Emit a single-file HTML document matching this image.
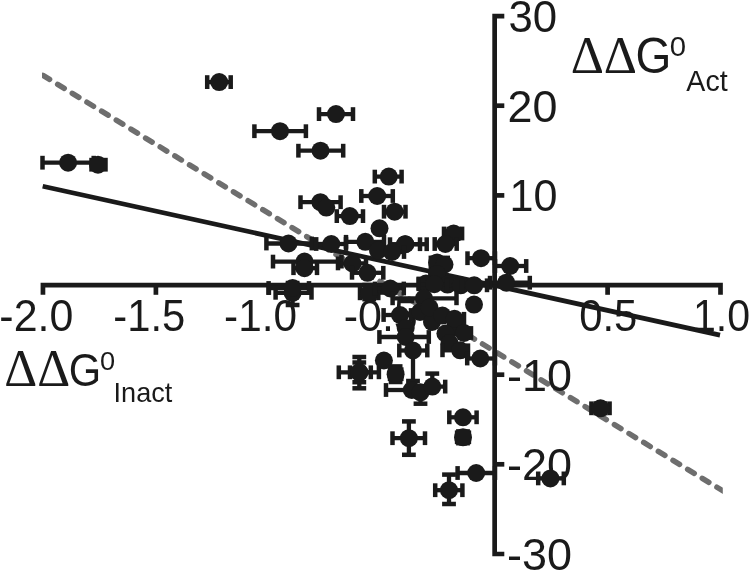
<!DOCTYPE html>
<html lang="en"><head><meta charset="utf-8"><title>ΔΔG0 Act vs ΔΔG0 Inact</title>
<style>html,body{margin:0;padding:0;background:#fff}body{width:750px;height:572px;overflow:hidden}svg{display:block}
text{font-family:"Liberation Sans",sans-serif;fill:#1a1a1a}.d{font-family:"Liberation Serif",serif}</style></head><body>
<svg width="750" height="572" viewBox="0 0 750 572">
<rect width="750" height="572" fill="#fff"/>
<defs><clipPath id="cl"><rect x="42" y="0" width="680.8" height="572"/></clipPath></defs>
<path clip-path="url(#cl)" d="M43.01 75.39 L743.01 503.16" stroke="#6e6e6e" stroke-width="5.5" stroke-dasharray="7.7 9.47" stroke-linecap="round" fill="none"/>
<text x="-0.63" y="331.1" font-size="44.3" textLength="73.97" lengthAdjust="spacingAndGlyphs">-2.0</text>
<text x="113.32" y="331.1" font-size="44.3" textLength="71.98" lengthAdjust="spacingAndGlyphs">-1.5</text>
<text x="224.1" y="331.1" font-size="44.3" textLength="72.92" lengthAdjust="spacingAndGlyphs">-1.0</text>
<text x="343.67" y="331.1" font-size="44.3" textLength="74.08" lengthAdjust="spacingAndGlyphs">-0.5</text>
<text x="579.13" y="331.1" font-size="44.3" textLength="58.15" lengthAdjust="spacingAndGlyphs">0.5</text>
<text x="692.92" y="331.1" font-size="44.3" textLength="57.13" lengthAdjust="spacingAndGlyphs">1.0</text>
<text x="508.46" y="31.95" font-size="44.3" textLength="48.69" lengthAdjust="spacingAndGlyphs">30</text>
<text x="507.56" y="121.6" font-size="44.3" textLength="49.93" lengthAdjust="spacingAndGlyphs">20</text>
<text x="509.47" y="211.3" font-size="44.3" textLength="47.95" lengthAdjust="spacingAndGlyphs">10</text>
<text x="507.08" y="390.6" font-size="44.3" textLength="65.03" lengthAdjust="spacingAndGlyphs">-10</text>
<text x="507.08" y="480.2" font-size="44.3" textLength="65.03" lengthAdjust="spacingAndGlyphs">-20</text>
<text x="507.08" y="569.9" font-size="44.3" textLength="65.03" lengthAdjust="spacingAndGlyphs">-30</text>
<g stroke="#1a1a1a" stroke-width="4.7" fill="none" stroke-linecap="butt">
<path d="M504.3 16.05H494.65 V554 H504.3"/>
<path d="M42.95 294.8 V285.15 H720.5 V294.8"/>
<path d="M494.65 105.7 H504.3"/>
<path d="M494.65 195.4 H504.3"/>
<path d="M494.65 374.7 H504.3"/>
<path d="M494.65 464.3 H504.3"/>
<path d="M155.9 285.15 V294.8"/>
<path d="M268.8 285.15 V294.8"/>
<path d="M381.7 285.15 V294.8"/>
<path d="M607.6 285.15 V294.8"/>
</g>
<path d="M42.7 186.3 L720 335.1" stroke="#1a1a1a" stroke-width="4.7" fill="none"/>
<g stroke="#1a1a1a" fill="#1a1a1a">
<path d="M42.5 162.7H93.7" stroke-width="4.3"/>
<path d="M42.5 155.8V169.6" stroke-width="4.5"/>
<path d="M93.7 155.8V169.6" stroke-width="4.5"/>
<circle cx="68.1" cy="162.7" r="9.0" stroke="none"/>
<path d="M91.5 164.7H105.5" stroke-width="4.3"/>
<path d="M91.5 157.8V171.6" stroke-width="4.5"/>
<path d="M105.5 157.8V171.6" stroke-width="4.5"/>
<circle cx="98" cy="164.7" r="9.0" stroke="none"/>
<path d="M207.2 82.1H230.7" stroke-width="4.3"/>
<path d="M207.2 75.2V89" stroke-width="4.5"/>
<path d="M230.7 75.2V89" stroke-width="4.5"/>
<circle cx="219.2" cy="82.1" r="9.0" stroke="none"/>
<path d="M319 114.1H353" stroke-width="4.3"/>
<path d="M319 107.2V121" stroke-width="4.5"/>
<path d="M353 107.2V121" stroke-width="4.5"/>
<circle cx="336" cy="114.1" r="9.0" stroke="none"/>
<path d="M254.4 131.2H305.9" stroke-width="4.3"/>
<path d="M254.4 124.3V138.1" stroke-width="4.5"/>
<path d="M305.9 124.3V138.1" stroke-width="4.5"/>
<circle cx="280" cy="131.2" r="9.0" stroke="none"/>
<path d="M298.4 150.7H343.2" stroke-width="4.3"/>
<path d="M298.4 143.8V157.6" stroke-width="4.5"/>
<path d="M343.2 143.8V157.6" stroke-width="4.5"/>
<circle cx="320.5" cy="150.7" r="9.0" stroke="none"/>
<path d="M374.8 176.6H401.6" stroke-width="4.3"/>
<path d="M374.8 169.7V183.5" stroke-width="4.5"/>
<path d="M401.6 169.7V183.5" stroke-width="4.5"/>
<circle cx="388.8" cy="176.6" r="9.0" stroke="none"/>
<path d="M361.3 196H392.8" stroke-width="4.3"/>
<path d="M361.3 189.1V202.9" stroke-width="4.5"/>
<path d="M392.8 189.1V202.9" stroke-width="4.5"/>
<circle cx="377.2" cy="196" r="9.0" stroke="none"/>
<path d="M384 211.7H405.5" stroke-width="4.3"/>
<path d="M384 204.8V218.6" stroke-width="4.5"/>
<path d="M405.5 204.8V218.6" stroke-width="4.5"/>
<circle cx="394.6" cy="211.7" r="9.0" stroke="none"/>
<path d="M300.5 202.2H340.6" stroke-width="4.3"/>
<path d="M300.5 195.3V209.1" stroke-width="4.5"/>
<path d="M340.6 195.3V209.1" stroke-width="4.5"/>
<circle cx="320.4" cy="202.2" r="9.0" stroke="none"/>
<circle cx="326.3" cy="207.6" r="9.0" stroke="none"/>
<path d="M336.8 216.1H363" stroke-width="4.3"/>
<path d="M336.8 209.2V223" stroke-width="4.5"/>
<path d="M363 209.2V223" stroke-width="4.5"/>
<circle cx="349.8" cy="216.1" r="9.0" stroke="none"/>
<circle cx="379.5" cy="228.3" r="9.0" stroke="none"/>
<path d="M266.4 243.5H311.8" stroke-width="4.3"/>
<path d="M266.4 236.6V250.4" stroke-width="4.5"/>
<path d="M311.8 236.6V250.4" stroke-width="4.5"/>
<circle cx="288.5" cy="243.5" r="9.0" stroke="none"/>
<path d="M316.2 244H346" stroke-width="4.3"/>
<path d="M316.2 237.1V250.9" stroke-width="4.5"/>
<path d="M346 237.1V250.9" stroke-width="4.5"/>
<circle cx="331.3" cy="244" r="9.0" stroke="none"/>
<path d="M346 241.8H384" stroke-width="4.3"/>
<path d="M346 234.9V248.7" stroke-width="4.5"/>
<path d="M384 234.9V248.7" stroke-width="4.5"/>
<circle cx="365.3" cy="241.8" r="9.0" stroke="none"/>
<path d="M390 244.2H420" stroke-width="4.3"/>
<path d="M390 237.3V251.1" stroke-width="4.5"/>
<path d="M420 237.3V251.1" stroke-width="4.5"/>
<circle cx="405.2" cy="244.2" r="9.0" stroke="none"/>
<path d="M405.2 244.2H426.7" stroke-width="4.3"/>
<path d="M426.7 237.3V251.1" stroke-width="4.5"/>
<circle cx="405.2" cy="244.2" r="9.0" stroke="none"/>
<circle cx="378" cy="250.5" r="9.0" stroke="none"/>
<path d="M392 252H404" stroke-width="4.3"/>
<path d="M404 245.1V258.9" stroke-width="4.5"/>
<circle cx="392" cy="252" r="9.0" stroke="none"/>
<path d="M444 233.5H462.1" stroke-width="4.3"/>
<path d="M444 226.6V240.4" stroke-width="4.5"/>
<path d="M462.1 226.6V240.4" stroke-width="4.5"/>
<path d="M453.6 229V238.8" stroke-width="4.3"/>
<path d="M446.7 229H460.5" stroke-width="4.5"/>
<path d="M446.7 238.8H460.5" stroke-width="4.5"/>
<circle cx="453.6" cy="233.5" r="9.0" stroke="none"/>
<path d="M434.7 244H456.7" stroke-width="4.3"/>
<path d="M434.7 237.1V250.9" stroke-width="4.5"/>
<path d="M456.7 237.1V250.9" stroke-width="4.5"/>
<circle cx="445.4" cy="244" r="9.0" stroke="none"/>
<path d="M467.5 258.2H495" stroke-width="4.3"/>
<path d="M467.5 251.3V265.1" stroke-width="4.5"/>
<path d="M495 251.3V265.1" stroke-width="4.5"/>
<circle cx="481" cy="258.2" r="9.0" stroke="none"/>
<path d="M495 266H526.2" stroke-width="4.3"/>
<path d="M495 259.1V272.9" stroke-width="4.5"/>
<path d="M526.2 259.1V272.9" stroke-width="4.5"/>
<circle cx="510.2" cy="266" r="9.0" stroke="none"/>
<path d="M430.8 262.5H447.8" stroke-width="4.3"/>
<path d="M430.8 255.6V269.4" stroke-width="4.5"/>
<path d="M447.8 255.6V269.4" stroke-width="4.5"/>
<path d="M437.1 258V268" stroke-width="4.3"/>
<path d="M430.2 258H444" stroke-width="4.5"/>
<path d="M430.2 268H444" stroke-width="4.5"/>
<circle cx="437.1" cy="262.5" r="9.0" stroke="none"/>
<circle cx="444.5" cy="264.5" r="9.0" stroke="none"/>
<circle cx="437" cy="274" r="9.0" stroke="none"/>
<circle cx="447.5" cy="284.6" r="9.0" stroke="none"/>
<path d="M418.7 283.5H426" stroke-width="4.3"/>
<path d="M418.7 276.6V290.4" stroke-width="4.5"/>
<circle cx="426" cy="283.5" r="9.0" stroke="none"/>
<path d="M490 282.7H529.8" stroke-width="4.3"/>
<path d="M490 275.8V289.6" stroke-width="4.5"/>
<path d="M529.8 275.8V289.6" stroke-width="4.5"/>
<circle cx="506.2" cy="282.7" r="9.0" stroke="none"/>
<path d="M273 261.6H341.5" stroke-width="4.3"/>
<path d="M273 254.7V268.5" stroke-width="4.5"/>
<path d="M341.5 254.7V268.5" stroke-width="4.5"/>
<circle cx="304.5" cy="261.6" r="9.0" stroke="none"/>
<path d="M293.5 268.2H317" stroke-width="4.3"/>
<path d="M293.5 261.3V275.1" stroke-width="4.5"/>
<path d="M317 261.3V275.1" stroke-width="4.5"/>
<circle cx="304.5" cy="268.2" r="9.0" stroke="none"/>
<path d="M338 263.4H366" stroke-width="4.3"/>
<path d="M338 256.5V270.3" stroke-width="4.5"/>
<path d="M366 256.5V270.3" stroke-width="4.5"/>
<circle cx="352.5" cy="263.4" r="9.0" stroke="none"/>
<path d="M352 272.8H383.3" stroke-width="4.3"/>
<path d="M352 265.9V279.7" stroke-width="4.5"/>
<path d="M383.3 265.9V279.7" stroke-width="4.5"/>
<circle cx="367.5" cy="272.8" r="9.0" stroke="none"/>
<path d="M275.6 292.8H311.5" stroke-width="4.3"/>
<path d="M275.6 285.9V299.7" stroke-width="4.5"/>
<path d="M311.5 285.9V299.7" stroke-width="4.5"/>
<path d="M292.6 283V305" stroke-width="4.3"/>
<path d="M285.7 283H299.5" stroke-width="4.5"/>
<path d="M285.7 305H299.5" stroke-width="4.5"/>
<circle cx="292.6" cy="292.8" r="9.0" stroke="none"/>
<path d="M268.6 288H309" stroke-width="4.3"/>
<path d="M268.6 281.1V294.9" stroke-width="4.5"/>
<path d="M309 281.1V294.9" stroke-width="4.5"/>
<circle cx="292.6" cy="288" r="9.0" stroke="none"/>
<path d="M360 293.3H378.3" stroke-width="4.3"/>
<path d="M360 286.4V300.2" stroke-width="4.5"/>
<path d="M378.3 286.4V300.2" stroke-width="4.5"/>
<path d="M369.2 285V299.2" stroke-width="4.3"/>
<path d="M362.3 285H376.1" stroke-width="4.5"/>
<path d="M362.3 299.2H376.1" stroke-width="4.5"/>
<circle cx="369.2" cy="293.3" r="9.0" stroke="none"/>
<path d="M375 288.5H403.8" stroke-width="4.3"/>
<path d="M375 281.6V295.4" stroke-width="4.5"/>
<path d="M403.8 281.6V295.4" stroke-width="4.5"/>
<circle cx="390.3" cy="288.5" r="9.0" stroke="none"/>
<path d="M418.7 284.2H447.6" stroke-width="4.3"/>
<path d="M418.7 277.3V291.1" stroke-width="4.5"/>
<path d="M447.6 277.3V291.1" stroke-width="4.5"/>
<circle cx="434.3" cy="284.2" r="9.0" stroke="none"/>
<path d="M447 285.3H474" stroke-width="4.3"/>
<path d="M447 278.4V292.2" stroke-width="4.5"/>
<path d="M474 278.4V292.2" stroke-width="4.5"/>
<circle cx="460.7" cy="285.3" r="9.0" stroke="none"/>
<path d="M462 285.3H487" stroke-width="4.3"/>
<path d="M462 278.4V292.2" stroke-width="4.5"/>
<path d="M487 278.4V292.2" stroke-width="4.5"/>
<circle cx="474.2" cy="285.3" r="9.0" stroke="none"/>
<path d="M392.6 298.3H456.5" stroke-width="4.3"/>
<path d="M392.6 291.4V305.2" stroke-width="4.5"/>
<path d="M456.5 291.4V305.2" stroke-width="4.5"/>
<circle cx="424" cy="298.3" r="9.0" stroke="none"/>
<circle cx="474" cy="304.6" r="9.0" stroke="none"/>
<path d="M383.6 315H411" stroke-width="4.3"/>
<path d="M383.6 308.1V321.9" stroke-width="4.5"/>
<path d="M411 308.1V321.9" stroke-width="4.5"/>
<circle cx="400" cy="315" r="9.0" stroke="none"/>
<circle cx="420" cy="312" r="9.0" stroke="none"/>
<circle cx="432" cy="322" r="9.0" stroke="none"/>
<circle cx="429.5" cy="307.5" r="9.0" stroke="none"/>
<circle cx="455" cy="327.5" r="9.0" stroke="none"/>
<circle cx="442.4" cy="315.6" r="9.0" stroke="none"/>
<path d="M454.5 318.8H464" stroke-width="4.3"/>
<path d="M464 311.9V325.7" stroke-width="4.5"/>
<circle cx="454.5" cy="318.8" r="9.0" stroke="none"/>
<circle cx="405.7" cy="328" r="9.0" stroke="none"/>
<path d="M379.4 337H428.8" stroke-width="4.3"/>
<path d="M379.4 330.1V343.9" stroke-width="4.5"/>
<path d="M428.8 330.1V343.9" stroke-width="4.5"/>
<circle cx="405.7" cy="337" r="9.0" stroke="none"/>
<path d="M399.3 350.5H427.3" stroke-width="4.3"/>
<path d="M399.3 343.6V357.4" stroke-width="4.5"/>
<path d="M427.3 343.6V357.4" stroke-width="4.5"/>
<path d="M413 350.5V381" stroke-width="4.3"/>
<path d="M406.1 381H419.9" stroke-width="4.5"/>
<circle cx="413" cy="350.5" r="9.0" stroke="none"/>
<circle cx="445.4" cy="333.5" r="9.0" stroke="none"/>
<path d="M464 333H471" stroke-width="4.3"/>
<path d="M471 326.1V339.9" stroke-width="4.5"/>
<circle cx="464" cy="333" r="9.0" stroke="none"/>
<circle cx="449.5" cy="343" r="9.0" stroke="none"/>
<path d="M442.5 350.3H468" stroke-width="4.3"/>
<path d="M442.5 343.4V357.2" stroke-width="4.5"/>
<path d="M468 343.4V357.2" stroke-width="4.5"/>
<circle cx="460.2" cy="350.3" r="9.0" stroke="none"/>
<path d="M467.2 358.5H495" stroke-width="4.3"/>
<path d="M467.2 351.6V365.4" stroke-width="4.5"/>
<path d="M495 351.6V365.4" stroke-width="4.5"/>
<circle cx="480.3" cy="358.5" r="9.0" stroke="none"/>
<path d="M338.8 372.3H378.9" stroke-width="4.3"/>
<path d="M338.8 365.4V379.2" stroke-width="4.5"/>
<path d="M378.9 365.4V379.2" stroke-width="4.5"/>
<path d="M359.3 357V388.3" stroke-width="4.3"/>
<path d="M352.4 357H366.2" stroke-width="4.5"/>
<path d="M352.4 388.3H366.2" stroke-width="4.5"/>
<circle cx="359.3" cy="372.3" r="9.0" stroke="none"/>
<path d="M350 372.3H370.8" stroke-width="4.3"/>
<path d="M350 365.4V379.2" stroke-width="4.5"/>
<path d="M370.8 365.4V379.2" stroke-width="4.5"/>
<path d="M359.3 362.5V382.2" stroke-width="4.3"/>
<path d="M352.4 362.5H366.2" stroke-width="4.5"/>
<path d="M352.4 382.2H366.2" stroke-width="4.5"/>
<circle cx="359.3" cy="372.3" r="9.0" stroke="none"/>
<circle cx="383.9" cy="360.5" r="9.0" stroke="none"/>
<path d="M390 374.2H401.3" stroke-width="4.3"/>
<path d="M390 367.3V381.1" stroke-width="4.5"/>
<path d="M401.3 367.3V381.1" stroke-width="4.5"/>
<path d="M395.6 366.4V382" stroke-width="4.3"/>
<path d="M388.7 366.4H402.5" stroke-width="4.5"/>
<path d="M388.7 382H402.5" stroke-width="4.5"/>
<circle cx="395.6" cy="374.2" r="9.0" stroke="none"/>
<path d="M386 390H411.8" stroke-width="4.3"/>
<path d="M386 383.1V396.9" stroke-width="4.5"/>
<circle cx="411.8" cy="390" r="9.0" stroke="none"/>
<path d="M420.5 392.3V403.7" stroke-width="4.3"/>
<path d="M413.6 403.7H427.4" stroke-width="4.5"/>
<circle cx="420.5" cy="392.3" r="9.0" stroke="none"/>
<path d="M432.3 386.6H445.2" stroke-width="4.3"/>
<path d="M445.2 379.7V393.5" stroke-width="4.5"/>
<path d="M432.3 373.6V386.6" stroke-width="4.3"/>
<path d="M425.4 373.6H439.2" stroke-width="4.5"/>
<circle cx="432.3" cy="386.6" r="9.0" stroke="none"/>
<path d="M449.3 417.3H476.6" stroke-width="4.3"/>
<path d="M449.3 410.4V424.2" stroke-width="4.5"/>
<path d="M476.6 410.4V424.2" stroke-width="4.5"/>
<circle cx="463" cy="417.3" r="9.0" stroke="none"/>
<path d="M457.1 437.3H468.9" stroke-width="4.3"/>
<path d="M457.1 430.4V444.2" stroke-width="4.5"/>
<path d="M468.9 430.4V444.2" stroke-width="4.5"/>
<path d="M463 431.4V443.2" stroke-width="4.3"/>
<path d="M456.1 431.4H469.9" stroke-width="4.5"/>
<path d="M456.1 443.2H469.9" stroke-width="4.5"/>
<circle cx="463" cy="437.3" r="9.0" stroke="none"/>
<path d="M392.5 438.2H425" stroke-width="4.3"/>
<path d="M392.5 431.3V445.1" stroke-width="4.5"/>
<path d="M425 431.3V445.1" stroke-width="4.5"/>
<path d="M408.9 421.4V454.8" stroke-width="4.3"/>
<path d="M402 421.4H415.8" stroke-width="4.5"/>
<path d="M402 454.8H415.8" stroke-width="4.5"/>
<circle cx="408.9" cy="438.2" r="9.0" stroke="none"/>
<path d="M457.6 473H495" stroke-width="4.3"/>
<path d="M457.6 466.1V479.9" stroke-width="4.5"/>
<path d="M495 466.1V479.9" stroke-width="4.5"/>
<circle cx="476.2" cy="473" r="9.0" stroke="none"/>
<path d="M435.2 490.2H462.4" stroke-width="4.3"/>
<path d="M435.2 483.3V497.1" stroke-width="4.5"/>
<path d="M462.4 483.3V497.1" stroke-width="4.5"/>
<path d="M449 474.6V504" stroke-width="4.3"/>
<path d="M442.1 474.6H455.9" stroke-width="4.5"/>
<path d="M442.1 504H455.9" stroke-width="4.5"/>
<circle cx="449" cy="490.2" r="9.0" stroke="none"/>
<path d="M538.2 478.4H563.8" stroke-width="4.3"/>
<path d="M538.2 471.5V485.3" stroke-width="4.5"/>
<path d="M563.8 471.5V485.3" stroke-width="4.5"/>
<circle cx="550.4" cy="478.4" r="9.0" stroke="none"/>
<path d="M591.4 408.3H609.6" stroke-width="4.3"/>
<path d="M591.4 401.4V415.2" stroke-width="4.5"/>
<path d="M609.6 401.4V415.2" stroke-width="4.5"/>
<path d="M600.5 403.5V413.1" stroke-width="4.3"/>
<path d="M593.6 403.5H607.4" stroke-width="4.5"/>
<path d="M593.6 413.1H607.4" stroke-width="4.5"/>
<circle cx="600.5" cy="408.3" r="9.0" stroke="none"/>
</g>
<text class="d" x="570.66" y="73.3" font-size="52.5" textLength="66.43" lengthAdjust="spacingAndGlyphs">ΔΔ</text>
<text x="635.59" y="73.3" font-size="50" textLength="35.88" lengthAdjust="spacingAndGlyphs">G</text>
<text x="669.83" y="56.1" font-size="28" textLength="16.31" lengthAdjust="spacingAndGlyphs">0</text>
<text x="686.33" y="90.8" font-size="29.5" textLength="41.28" lengthAdjust="spacingAndGlyphs">Act</text>
<text class="d" x="4.28" y="385.8" font-size="51.9" textLength="65.9" lengthAdjust="spacingAndGlyphs">ΔΔ</text>
<text x="68.72" y="385.7" font-size="45.7" textLength="32.43" lengthAdjust="spacingAndGlyphs">G</text>
<text x="99.91" y="370.4" font-size="26.5" textLength="15.14" lengthAdjust="spacingAndGlyphs">0</text>
<text x="113.59" y="402" font-size="28" textLength="58.72" lengthAdjust="spacingAndGlyphs">Inact</text>
</svg></body></html>
